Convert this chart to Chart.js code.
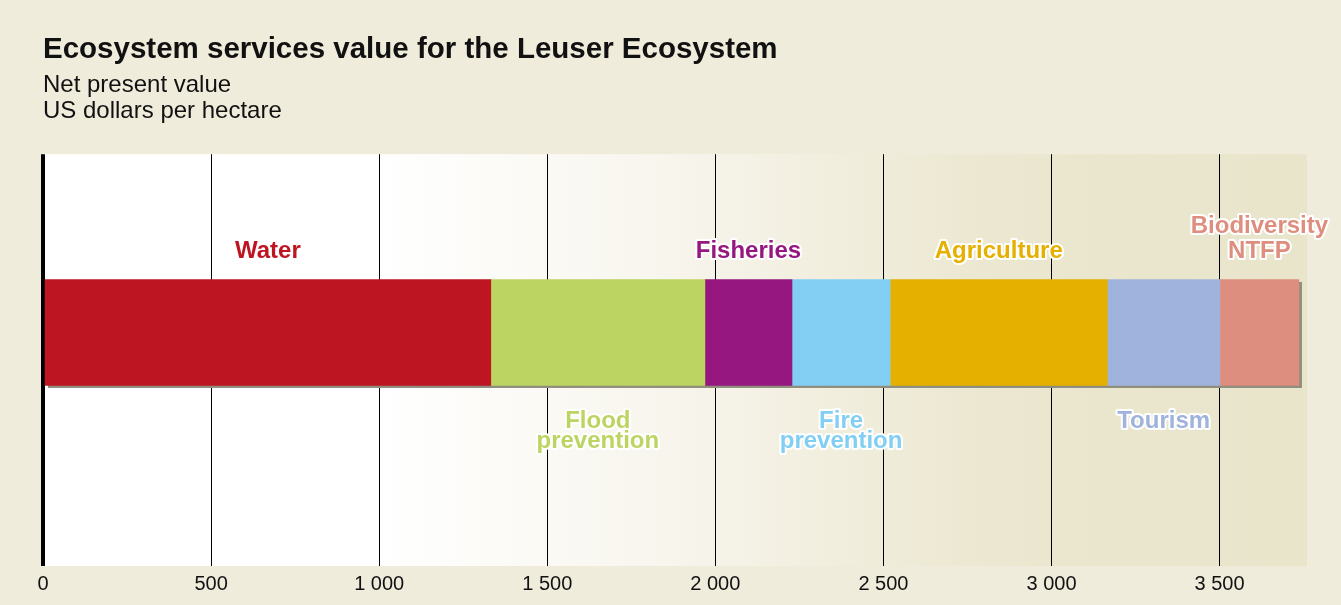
<!DOCTYPE html>
<html>
<head>
<meta charset="utf-8">
<title>Leuser Ecosystem services</title>
<script src="https://cdn.jsdelivr.net/npm/chart.js@4.4.1/dist/chart.umd.min.js"></script>
<style>
  html, body { margin: 0; padding: 0; background: #f0ecdc; }
  #wrap { width: 1341px; height: 605px; }
</style>
</head>
<body>
<div id="wrap"><canvas id="chart"></canvas></div>
<script>
// Net present value, US dollars per hectare
const SERVICES = ['Water', 'Flood\nprevention', 'Fisheries', 'Fire\nprevention', 'Agriculture', 'Tourism', 'Biodiversity\nNTFP'];
const VALUES = [1332, 637, 259, 292, 646, 335, 235];
const COLORS = ['#bd1522', '#bcd461', '#95177f', '#83cff4', '#e5b000', '#9fb3dc', '#de8e7e'];
const TICK_VALUES = [0, 500, 1000, 1500, 2000, 2500, 3000, 3500];
const AXIS_MAX = 3760;

const FONT = "'Liberation Sans', Arial, Helvetica, sans-serif";

function formatThousands(v) {
    return String(v).replace(/\B(?=(\d{3})+(?!\d))/g, ' ');
}

// white-to-sand wash behind the plot
const panelBackground = {
    id: 'panelBackground',
    beforeDraw(chart) {
        const { ctx, chartArea: a } = chart;
        const g = ctx.createLinearGradient(a.left, 0, a.right, 0);
        g.addColorStop(0, '#ffffff');
        g.addColorStop(0.265, '#ffffff');
        g.addColorStop(0.5, '#f7f5ec');
        g.addColorStop(0.75, '#ebe7d0');
        g.addColorStop(1, '#e9e5cb');
        ctx.save();
        ctx.fillStyle = g;
        ctx.fillRect(a.left, a.top, a.right - a.left, a.bottom - a.top);
        ctx.restore();
    },
};

// one flat drop shadow under the whole stacked bar
const barShadow = {
    id: 'barShadow',
    beforeDatasetsDraw(chart) {
        const { ctx } = chart;
        const bars = chart.data.datasets.map((_, i) => chart.getDatasetMeta(i).data[0]);
        const left = Math.min(...bars.map(b => Math.min(b.x, b.base)));
        const right = Math.max(...bars.map(b => Math.max(b.x, b.base)));
        const top = bars[0].y - bars[0].height / 2;
        ctx.save();
        ctx.fillStyle = '#8e8d7e';
        ctx.fillRect(left + 3, top + 2.5, right - left, bars[0].height);
        ctx.restore();
    },
};

// segment names, alternating above and below the bar
const segmentLabels = {
    id: 'segmentLabels',
    afterDatasetsDraw(chart) {
        const { ctx } = chart;
        ctx.save();
        ctx.font = `bold 24px ${FONT}`;
        ctx.textAlign = 'center';
        ctx.textBaseline = 'middle';
        ctx.lineJoin = 'round';
        ctx.lineWidth = 4;
        ctx.strokeStyle = '#ffffff';
        chart.data.datasets.forEach((ds, i) => {
            const bar = chart.getDatasetMeta(i).data[0];
            const lines = ds.label.split('\n');
            const cx = (bar.x + bar.base) / 2;
            const above = i % 2 === 0;
            const gap = above ? 25 : 20;
            const y0 = above
                ? bar.y - bar.height / 2 - 28.5 - (lines.length - 1) * gap
                : bar.y + bar.height / 2 + 36;
            lines.forEach((line, k) => ctx.strokeText(line, cx, y0 + k * gap));
            ctx.fillStyle = ds.backgroundColor;
            lines.forEach((line, k) => ctx.fillText(line, cx, y0 + k * gap));
        });
        ctx.restore();
    },
};

const datasets = SERVICES.map((name, i) => ({
    label: name,
    data: [{ x: VALUES[i], y: 0 }],
    backgroundColor: COLORS[i],
    borderWidth: 0,
    barThickness: 106,
}));

new Chart(document.getElementById('chart'), {
    type: 'bar',
    data: { datasets },
    options: {
        indexAxis: 'y',
        responsive: true,
        maintainAspectRatio: false,
        animation: false,
        layout: {
            padding: { left: 43, right: 34, top: 0, bottom: 3 },
        },
        scales: {
            x: {
                type: 'linear',
                stacked: true,
                min: 0,
                max: AXIS_MAX,
                border: { display: false },
                afterBuildTicks: scale => {
                    scale.ticks = TICK_VALUES.map(value => ({ value }));
                },
                grid: {
                    color: '#000000',
                    lineWidth: ctx => (ctx.tick && ctx.tick.value === 0 ? 4 : 1),
                    drawTicks: false,
                },
                ticks: {
                    padding: 6,
                    color: '#111111',
                    font: { family: FONT, size: 20 },
                    callback: v => formatThousands(v),
                },
            },
            y: {
                type: 'linear',
                stacked: true,
                display: false,
                offset: false,
                min: -1.31,
                max: 1,
            },
        },
        plugins: {
            legend: { display: false },
            tooltip: { enabled: false },
            title: {
                display: true,
                text: 'Ecosystem services value for the Leuser Ecosystem',
                align: 'start',
                color: '#111111',
                font: { family: FONT, size: 29.5, weight: 'bold', lineHeight: 1.2 },
                padding: { top: 32, bottom: 0 },
            },
            subtitle: {
                display: true,
                text: ['Net present value', 'US dollars per hectare'],
                align: 'start',
                color: '#111111',
                font: { family: FONT, size: 24, weight: 'normal', lineHeight: 1.1 },
                padding: { top: 4.5, bottom: 29.5 },
            },
        },
    },
    plugins: [panelBackground, barShadow, segmentLabels],
});
</script>
</body>
</html>
